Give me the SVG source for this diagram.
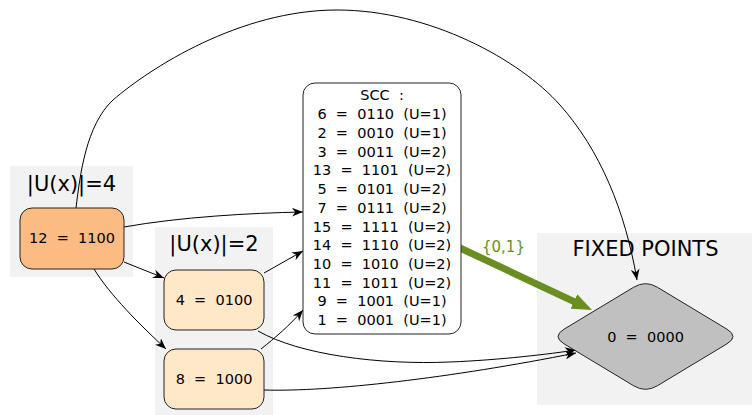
<svg xmlns="http://www.w3.org/2000/svg" width="752" height="415" viewBox="0 0 752 415">
<style>
text { font-family: "DejaVu Sans", "Liberation Sans", sans-serif; white-space: pre; }
.cl { fill: #F2F2F2; stroke: none; }
.cll { font-size: 21px; text-anchor: middle; fill: #000; }
.nd { stroke: #222; stroke-width: 1; }
.nl { font-size: 14.5px; text-anchor: middle; fill: #000; }
.e { fill: none; stroke: #000; stroke-width: 1; marker-end: url(#ah); }
.g { fill: none; stroke: #6B8E23; stroke-width: 7; marker-end: url(#gh); }
.gl { font-size: 15px; text-anchor: middle; fill: #6B8E23; }
</style>
<defs>
<marker id="ah" markerUnits="userSpaceOnUse" viewBox="0 0 10 8" markerWidth="11" markerHeight="9" refX="10" refY="4" orient="auto">
<path d="M0,0 L10,4 L0,8 L3,4 z" fill="#000"/>
</marker>
<marker id="gh" markerUnits="userSpaceOnUse" viewBox="0 0 20 16" markerWidth="20" markerHeight="16" refX="2" refY="8" orient="auto">
<path d="M0,0 L20,8 L0,16 z" fill="#6B8E23"/>
</marker>
</defs>
<rect width="752" height="415" fill="#fff"/>
<g id="cluster_u4">
<rect class="cl" x="10" y="166" width="123" height="111"/>
<text class="cll" x="71.5" y="191">|U(x)|=4</text>
</g>
<g id="cluster_u2">
<rect class="cl" x="155" y="227" width="118" height="188"/>
<text class="cll" x="214" y="251">|U(x)|=2</text>
</g>
<g id="cluster_fixed">
<rect class="cl" x="537" y="233" width="215" height="172"/>
<text class="cll" x="645.5" y="256">FIXED POINTS</text>
</g>
<g id="connectors">
<path class="e" d="M76,208 C80,175 86,125 113,100 C150,68 240,10 337,10 C430,10 520,60 560,105 C600,150 625,210 637,280"/>
<path class="e" d="M124,227 C180,217 250,213 303,212"/>
<path class="e" d="M124,262 L164,278"/>
<path class="e" d="M94,269 C110,295 140,325 166,349"/>
<path class="e" d="M264,273 L303,251"/>
<path class="e" d="M261,349 C275,338 290,325 303,310"/>
<path class="e" d="M258,331 C300,355 380,365 450,362 C500,360 550,354 576,350"/>
<path class="e" d="M264,390 C330,392 450,378 576,353"/>
<path class="g" d="M460,248 L575.7,302.3"/>
<text class="gl" x="503.5" y="252">{0,1}</text>
</g>
<g id="node12">
<rect class="nd" x="20" y="208" width="104" height="61" rx="12" fill="#FDBB84"/>
<text class="nl" x="72" y="243">12  =  1100</text>
</g>
<g id="node4">
<rect class="nd" x="164" y="270" width="100" height="60" rx="12" fill="#FEE8C8"/>
<text class="nl" x="214" y="305">4  =  0100</text>
</g>
<g id="node8">
<rect class="nd" x="164" y="349" width="100" height="60" rx="12" fill="#FEE8C8"/>
<text class="nl" x="214" y="384">8  =  1000</text>
</g>
<g id="scc">
<rect class="nd" x="303" y="83" width="158" height="251" rx="12" fill="#fff"/>
<text class="nl" x="382" y="100">SCC  :</text>
<text class="nl" x="382" y="119.3">6  =  0110  (U=1)</text>
<text class="nl" x="382" y="138">2  =  0010  (U=1)</text>
<text class="nl" x="382" y="156.7">3  =  0011  (U=2)</text>
<text class="nl" x="382" y="175.4">13  =  1101  (U=2)</text>
<text class="nl" x="382" y="194.1">5  =  0101  (U=2)</text>
<text class="nl" x="382" y="212.8">7  =  0111  (U=2)</text>
<text class="nl" x="382" y="231.5">15  =  1111  (U=2)</text>
<text class="nl" x="382" y="250.2">14  =  1110  (U=2)</text>
<text class="nl" x="382" y="268.9">10  =  1010  (U=2)</text>
<text class="nl" x="382" y="287.6">11  =  1011  (U=2)</text>
<text class="nl" x="382" y="306.3">9  =  1001  (U=1)</text>
<text class="nl" x="382" y="325">1  =  0001  (U=1)</text>
</g>
<g id="node0">
<path class="nd" fill="#C0C0C0" d="M564,329.2 L633.5,287.3 Q645.5,280 657.5,287.3 L727,329.2 Q739,336.5 727,343.8 L657.5,385.7 Q645.5,393 633.5,385.7 L564,343.8 Q552,336.5 564,329.2 Z"/>
<text class="nl" x="645.5" y="341.5">0  =  0000</text>
</g>
</svg>
